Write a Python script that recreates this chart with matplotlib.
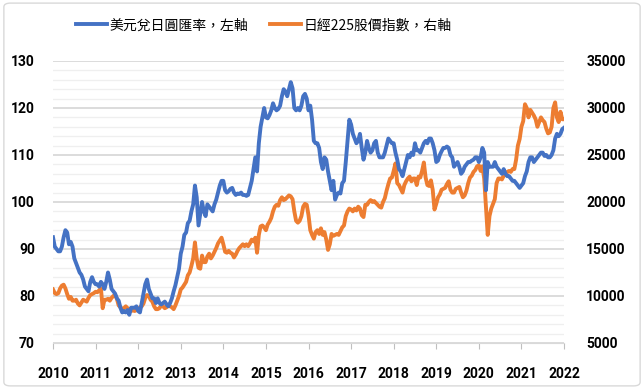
import numpy as np
import matplotlib.pyplot as plt
from matplotlib.patches import FancyBboxPatch
from matplotlib.ticker import MultipleLocator

# semi-monthly readings, 24 per year, 2010..2021 + end point
usdjpy = [
    92.5, 90.5, 90, 89.5, 89.5, 90.5, 92.5, 94, 93.5, 91, 91.5, 90.5, 88, 87, 86, 85, 84.5, 83.5, 82, 81.5, 81, 83, 84, 83,
    82.5, 82.5, 82, 83, 82.5, 81.5, 83, 85, 83.5, 81.5, 81, 80.5, 79.5, 79, 77.5, 76.5, 76.8, 76.5, 77, 76, 77.5, 77.5, 77.5, 77.8,
    76.8, 76.5, 78.5, 80.5, 82.5, 83.5, 81.5, 80.5, 79.5, 79.5, 78.5, 79.5, 78.5, 78.2, 78.5, 78.8, 78.2, 77.8, 78.5, 79.5, 81, 82.3, 84, 85.8,
    89, 90.5, 93, 93.5, 95.5, 96, 98, 99.5, 103.5, 101, 95, 97.5, 100, 98, 97, 99.5, 99, 98.5, 98, 99.5, 100.5, 102, 103.5, 104.5,
    104.5, 102.5, 102, 102.3, 102.8, 103, 102, 101.5, 101.8, 101.7, 102, 101.5, 101.5, 101.3, 101.5, 103, 104.5, 107, 109.5, 106.5, 112.5, 116, 118, 120,
    118, 117.8, 118.5, 119.5, 121, 120, 119.5, 119.8, 120.5, 122.5, 124, 123.5, 122.5, 124, 125.5, 124.2, 120, 119.5, 120, 119.5, 120.5, 122.5, 123, 122,
    119.5, 120.5, 117.5, 113, 112.5, 112.5, 111.5, 108.5, 107, 109.5, 109, 106.5, 104.5, 102.5, 104.5, 100.5, 101.5, 102, 101.8, 104, 104.5, 108.5, 113, 117.5,
    116.5, 114.5, 113.5, 112.5, 113, 114.5, 111.5, 109, 110.5, 113, 111.5, 110.5, 111, 112.5, 113, 110.5, 109.5, 109.5, 109.5, 110.5, 112, 113.5, 113, 112.5,
    112.5, 110.5, 109, 107, 106.5, 105.5, 107, 108.5, 110, 109.5, 110.5, 110, 112.5, 111, 111, 110.5, 111.5, 112.5, 113, 112.5, 113.5, 113.5, 112.5, 111,
    108.5, 108.8, 110, 110.8, 111.5, 111.5, 111.8, 111.5, 110, 109.5, 107.5, 108, 108.5, 107.5, 106, 106.5, 107.5, 108, 108.5, 108.5, 108.8, 109, 109.5, 109.5,
    108.5, 109.5, 111.5, 110.5, 102.5, 108.5, 107.5, 107.5, 107.5, 108.5, 107.5, 107, 106.5, 106, 107, 106, 105.5, 105.5, 105, 104.5, 104.5, 104, 103.5, 103,
    103.5, 104, 105.5, 106.5, 108.5, 109.5, 109.5, 108.5, 109, 109.5, 110, 110.5, 110.5, 109.8, 110, 109.5, 109.5, 110, 111, 113.5, 114.5, 114, 114.5, 115.5,
    115.8,
]

nikkei = [
    10700, 10300, 10200, 10300, 10800, 11100, 11200, 10800, 10200, 9700, 9900, 9500, 9500, 9600, 9200, 9000, 9300, 9600, 9500, 9400, 9800, 10100, 10200, 10300,
    10450, 10400, 10600, 10800, 8700, 9600, 9600, 9700, 9500, 9800, 10000, 10100, 9700, 9000, 8800, 8600, 8700, 8900, 8700, 8600, 8400, 8500, 8400, 8500,
    8500, 8800, 8900, 9200, 9800, 10100, 10000, 9600, 9400, 8900, 8600, 8600, 8700, 9000, 8900, 8700, 8800, 9100, 8900, 8800, 8600, 9000, 9500, 10000,
    10700, 10900, 11200, 11500, 12200, 12500, 13200, 14000, 15700, 14000, 13000, 12900, 14300, 13600, 13600, 14200, 14500, 14000, 14300, 14700, 15100, 15600, 15900, 16200,
    15500, 14700, 14600, 14800, 14600, 14500, 14100, 14400, 14800, 15100, 15300, 15500, 15300, 15500, 15300, 15600, 16000, 15800, 16200, 14600, 16500, 17400, 17500, 17300,
    17000, 17600, 17900, 18300, 19000, 19500, 19700, 19600, 20200, 20500, 20200, 20300, 20500, 20700, 20600, 20300, 19000, 18000, 17800, 18000, 18500, 19500, 19800, 19700,
    18600, 17000, 16500, 16100, 16800, 17000, 16600, 17200, 16500, 16800, 16000, 14900, 15500, 16600, 16400, 16500, 16600, 16500, 16900, 17300, 17500, 18500, 19000, 19300,
    19200, 19000, 19300, 19100, 19500, 19300, 18600, 18400, 19700, 19700, 20000, 20200, 20000, 20100, 19900, 19700, 19500, 19400, 20000, 20400, 21200, 21900, 22500, 22600,
    23300, 24100, 22000, 21800, 21400, 21000, 21800, 22200, 22500, 22700, 22200, 22500, 22500, 21800, 22700, 22600, 23300, 24200, 22600, 21800, 21700, 22300, 21300, 19200,
    19800, 20500, 20800, 21300, 21400, 21500, 21900, 22200, 21300, 21000, 21000, 21400, 21500, 21600, 21000, 20500, 20700, 21200, 22000, 22600, 22800, 23200, 23400, 23800,
    23900, 23300, 23800, 22500, 19500, 16500, 18500, 19300, 19800, 20300, 22000, 22500, 22500, 22400, 22800, 22900, 23200, 23300, 23200, 23500, 23500, 24500, 26000, 26700,
    28000, 28600, 30400, 30000, 29000, 29800, 29500, 29200, 28800, 28000, 28500, 29000, 28700, 28500, 27800, 27300, 27400, 28000, 30000, 30600, 29000, 28500, 29600, 28800,
    28800,
]

x = 2010 + np.arange(len(usdjpy)) / 24
years = list(range(2010, 2023))

blue = '#4472C4'
orange = '#ED7D31'
tickfont = dict(family='Roboto', weight='bold', size=10)
cjk = ['Noto Sans CJK TC', 'DejaVu Sans']

fig = plt.figure(figsize=(6.44, 3.89), dpi=100)
fig.patches.append(FancyBboxPatch((0.006, 0.008), 0.988, 0.984, boxstyle='round,pad=0,rounding_size=0.01',
                                  transform=fig.transFigure, fc='none', ec='#d9d9d9', lw=1))
ax = fig.add_axes([0.0823, 0.1183, 0.7935, 0.7249])
ax2 = ax.twinx()

ax.plot(x, usdjpy, color=blue, lw=2.8, label='美元兌日圓匯率，左軸')
ax2.plot(x, nikkei, color=orange, lw=2.8, label='日經225股價指數，右軸')
# blue on top, gridlines come from the secondary axis underneath
ax2.set_zorder(0)
ax.set_zorder(1)
ax.patch.set_visible(False)

ax.set_xlim(2010, 2022)
ax.set_ylim(70, 130)
ax2.set_ylim(5000, 35000)
ax.set_xticks(years)
ax.set_yticks(range(70, 131, 10))
ax2.set_yticks(range(5000, 35001, 5000))
ax2.yaxis.set_minor_locator(MultipleLocator(1000))

ax2.grid(axis='y', which='major', color='#d9d9d9', lw=1.3, zorder=0)
ax2.grid(axis='y', which='minor', color='#efefef', lw=0.9, zorder=0)
ax2.set_axisbelow(True)

for a in (ax, ax2):
    for s in a.spines.values():
        s.set_visible(False)
ax.spines['bottom'].set_visible(True)
ax.spines['bottom'].set_color('#d9d9d9')

ax.tick_params(axis='x', length=4, color='#bfbfbf', pad=13)
ax.tick_params(axis='y', which='both', length=0, pad=13)
ax2.tick_params(axis='y', which='both', length=0, pad=16)
for lab in ax.get_xticklabels() + ax.get_yticklabels() + ax2.get_yticklabels():
    lab.set(**tickfont)

h1, l1 = ax.get_legend_handles_labels()
h2, l2 = ax2.get_legend_handles_labels()
fig.legend(h1 + h2, l1 + l2, loc='center', bbox_to_anchor=(0.41, 0.935), ncol=2, frameon=False,
           prop=dict(family=cjk, size=10), handlelength=2.2, handletextpad=0.2, columnspacing=1.6)

fig.savefig('out.png', dpi=100)
